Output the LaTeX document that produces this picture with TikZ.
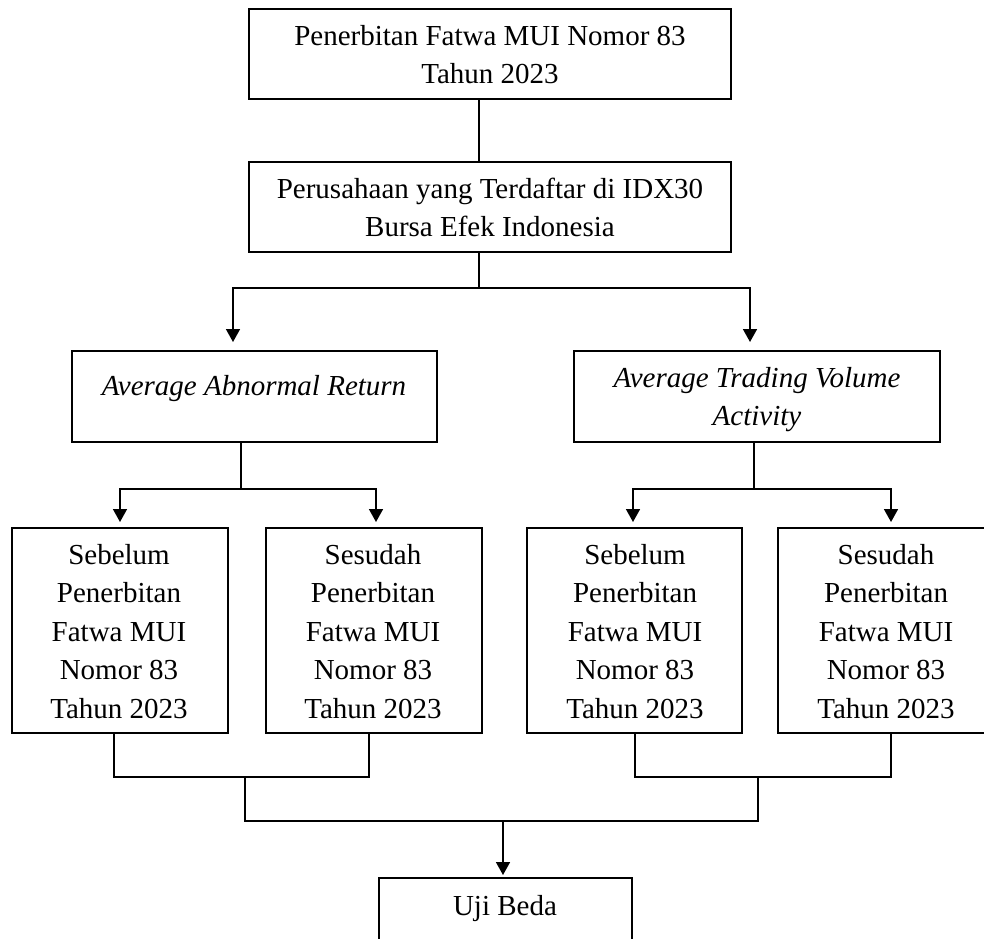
\documentclass[tikz,border=0pt]{standalone}
\usepackage{fontspec}
\setmainfont{Liberation Serif}
\usetikzlibrary{arrows.meta,calc}
\tikzset{
  ln/.style={line width=1.6pt},
  arw/.style={ln,-{Triangle[length=13pt,width=14pt]}},
  box/.style={draw,line width=1.6pt,inner sep=0pt,outer sep=0pt},
  txt/.style={anchor=base,inner sep=0pt,align=flush center,font=\fontsize{29}{38.6}\selectfont}
}
\begin{document}
\begin{tikzpicture}[x=1pt,y=-1pt,line join=miter]
\useasboundingbox (0,0) rectangle (984,938);
\clip (0,0) rectangle (984,938);
% boxes
\node[box,minimum width=482pt,minimum height=90pt] (T1) at (490,54) {};
\node[box,minimum width=482pt,minimum height=90pt] (T2) at (490,207) {};
\node[box,minimum width=365pt,minimum height=91pt] (AAR) at (254.5,396.5) {};
\node[box,minimum width=366pt,minimum height=91pt] (ATVA) at (757,396.5) {};
\node[box,minimum width=216pt,minimum height=205pt] (S1) at (120,630.5) {};
\node[box,minimum width=216pt,minimum height=205pt] (S2) at (374,630.5) {};
\node[box,minimum width=215pt,minimum height=205pt] (S3) at (634.5,630.5) {};
\node[box,minimum width=216pt,minimum height=205pt] (S4) at (886,630.5) {};
\node[box,minimum width=253pt,minimum height=90pt] (U) at (505.5,923) {};
% texts
\node[txt,text width=470pt] (tT1) at (490,45) {Penerbitan Fatwa MUI Nomor 83\\Tahun 2023};
\node[txt,text width=470pt] (tT2) at (490,198) {Perusahaan yang Terdaftar di IDX30\\Bursa Efek Indonesia};
\node[txt,text width=355pt] (tAAR) at (254,395) {\textit{Average Abnormal Return}};
\node[txt,text width=355pt] (tATVA) at (757,387) {\textit{Average Trading Volume}\\\textit{Activity}};
\node[txt,text width=210pt] (tS1) at (119,564) {Sebelum\\Penerbitan\\Fatwa MUI\\Nomor 83\\Tahun 2023};
\node[txt,text width=210pt] (tS2) at (373,564) {Sesudah\\Penerbitan\\Fatwa MUI\\Nomor 83\\Tahun 2023};
\node[txt,text width=210pt] (tS3) at (635,564) {Sebelum\\Penerbitan\\Fatwa MUI\\Nomor 83\\Tahun 2023};
\node[txt,text width=210pt] (tS4) at (886,564) {Sesudah\\Penerbitan\\Fatwa MUI\\Nomor 83\\Tahun 2023};
\node[txt,text width=240pt] (tU) at (505,915) {Uji Beda};
% junction coordinates
\coordinate (sp) at (479,288);
\coordinate (a1) at (233,342);
\coordinate (a2) at (750,342);
\coordinate (b1) at (241,489);
\coordinate (b2) at (754,489);
\coordinate (t11) at (120,522);
\coordinate (t12) at (376,522);
\coordinate (t21) at (633,522);
\coordinate (t22) at (891,522);
\coordinate (d11) at (114,777);
\coordinate (d12) at (369,777);
\coordinate (d21) at (635,777);
\coordinate (d22) at (891,777);
\coordinate (m1) at (245,777);
\coordinate (m2) at (758,777);
\coordinate (n1) at (245,821);
\coordinate (n2) at (758,821);
\coordinate (n0) at (503,821);
\coordinate (tu) at (503,875);
% connectors
\draw[ln] (T1.south -| sp) -- (T2.north -| sp);
\draw[ln] (T2.south -| sp) -- (sp);
\draw[arw] (sp) -| (a1);
\draw[arw] (sp) -| (a2);
\draw[ln] (AAR.south -| b1) -- (b1);
\draw[ln] (ATVA.south -| b2) -- (b2);
\draw[arw] (b1) -| (t11);
\draw[arw] (b1) -| (t12);
\draw[arw] (b2) -| (t21);
\draw[arw] (b2) -| (t22);
\draw[ln] (S1.south -| d11) -- (d11) -- (d12) -- (S2.south -| d12);
\draw[ln] (S3.south -| d21) -- (d21) -- (d22) -- (S4.south -| d22);
\draw[ln] (m1) -- (n1) -- (n2) -- (m2);
\draw[arw] (n0) -- (tu);
\end{tikzpicture}
\end{document}
